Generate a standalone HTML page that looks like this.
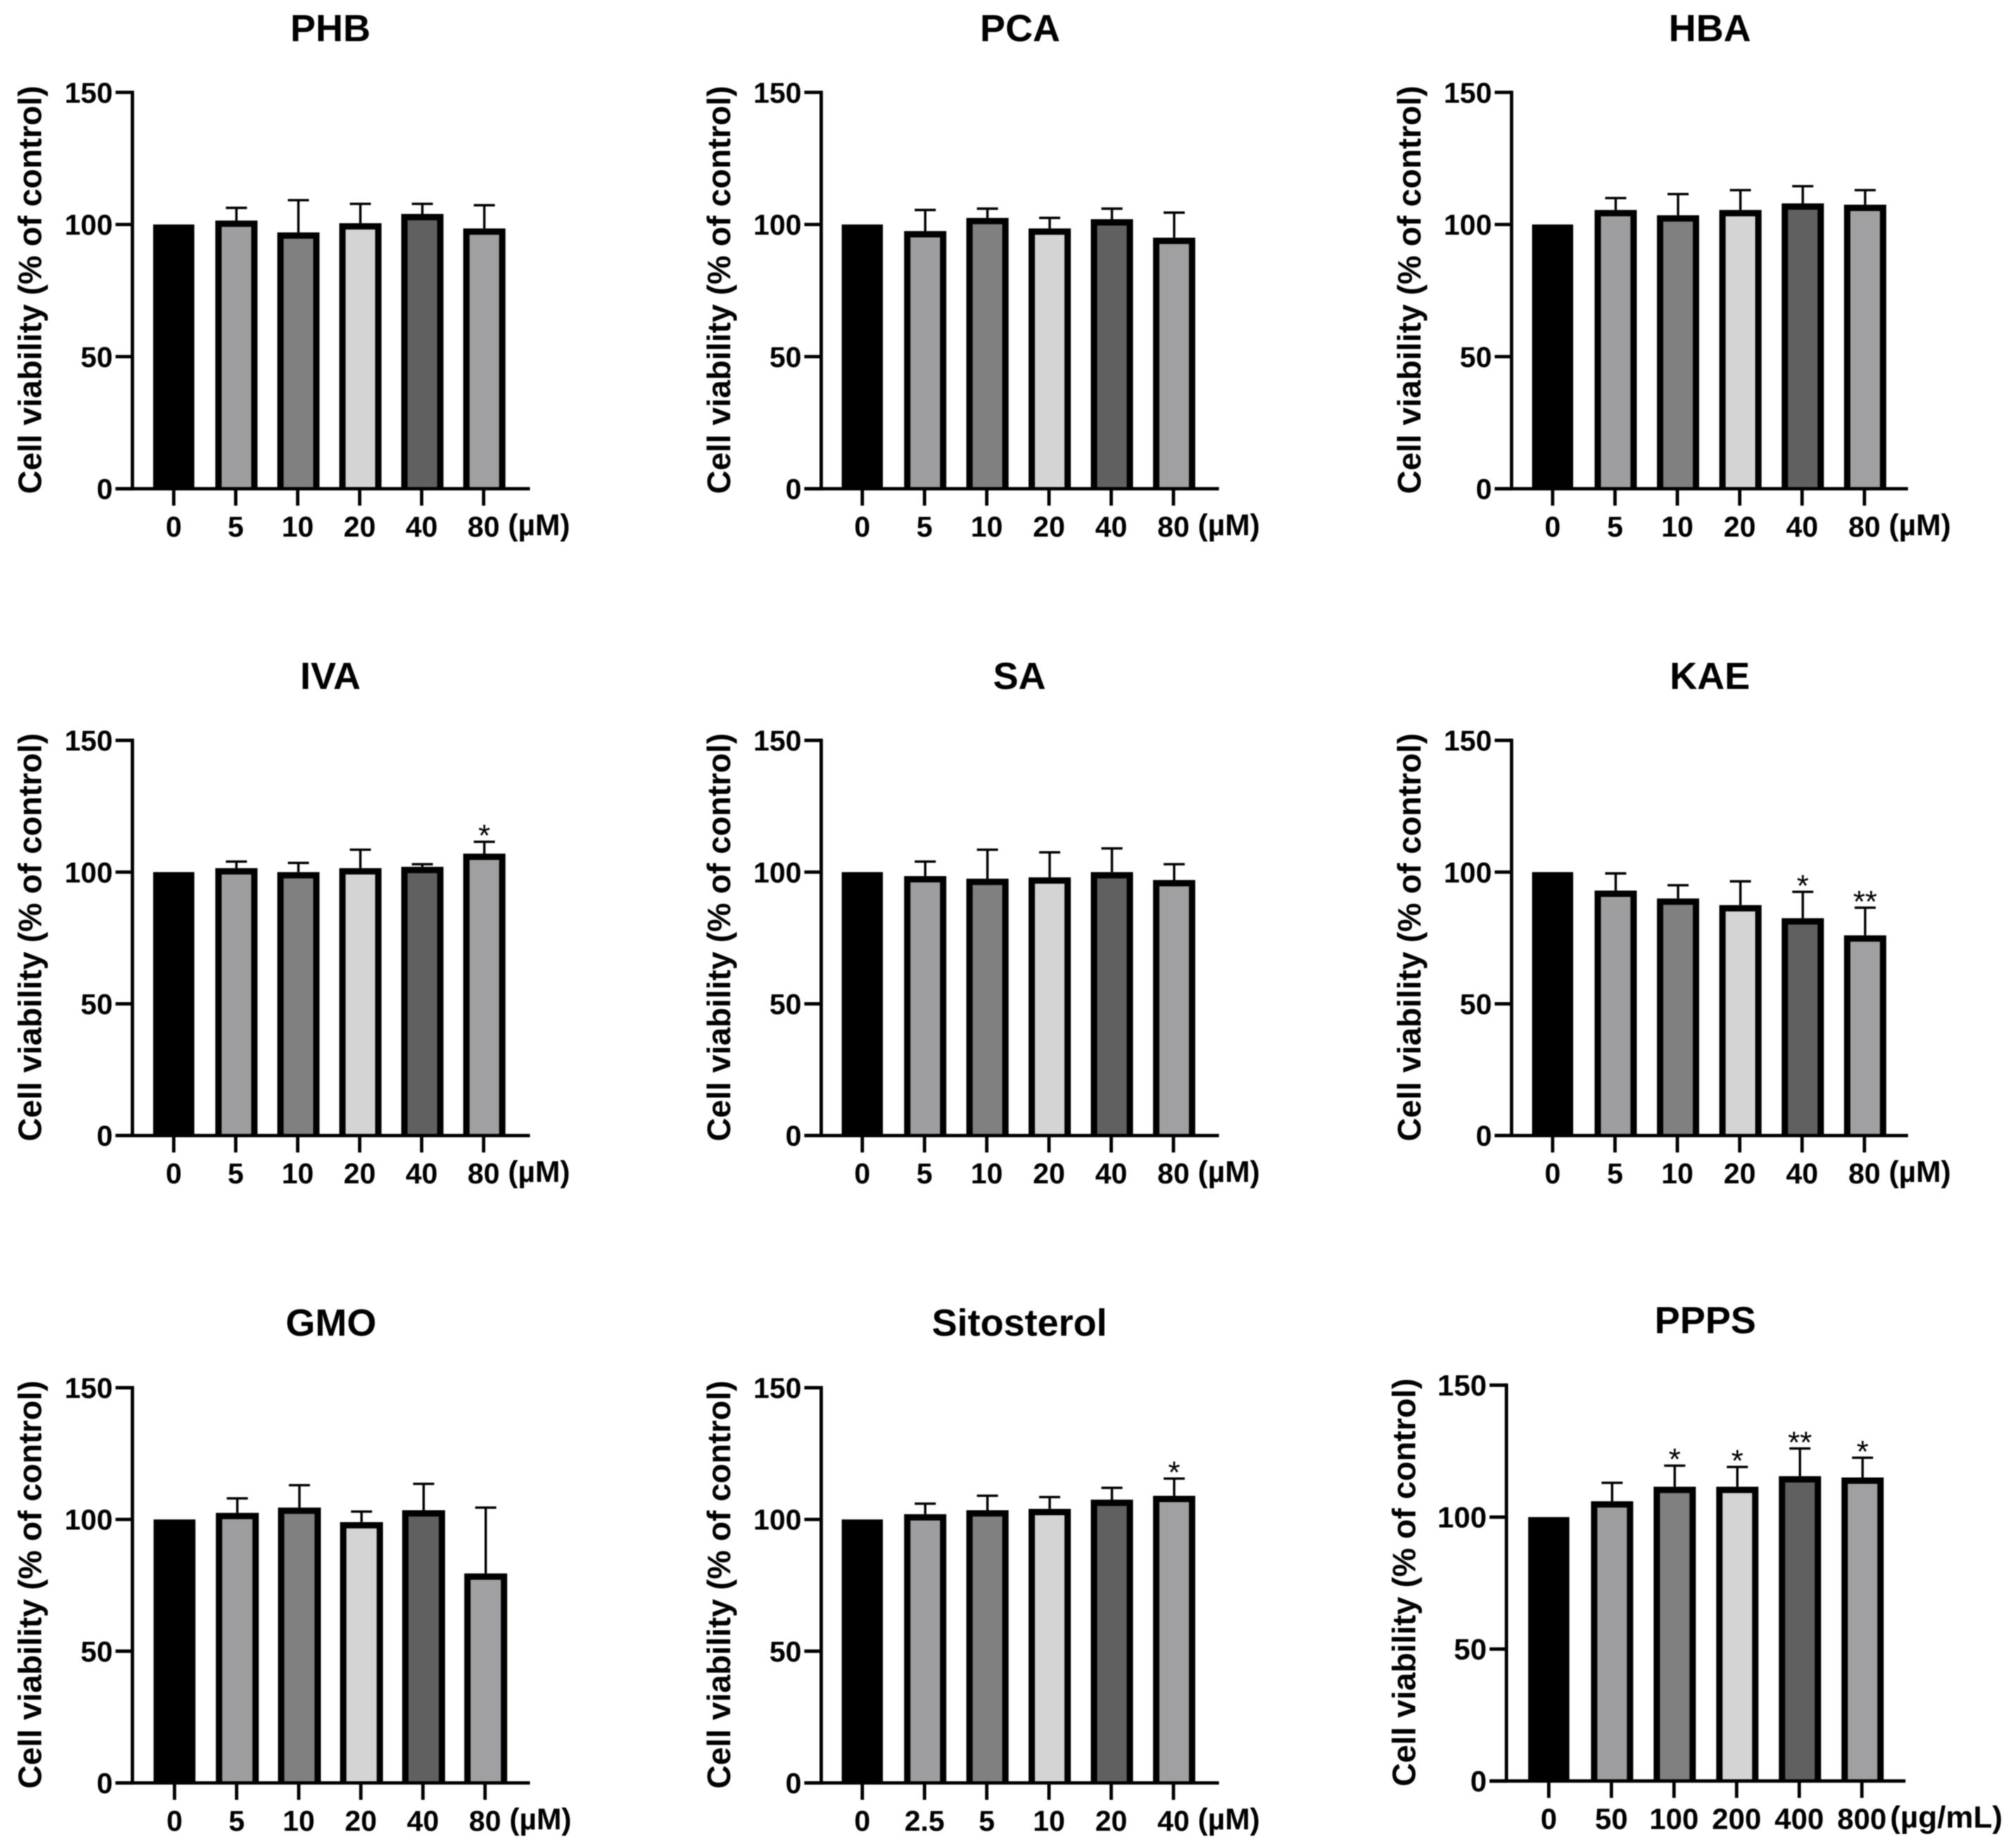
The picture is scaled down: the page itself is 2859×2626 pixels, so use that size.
<!DOCTYPE html>
<html lang="en">
<head>
<meta charset="utf-8">
<title>Cell viability panels</title>
<style>
html,body{margin:0;padding:0;background:#fff;}
svg{display:block;filter:blur(0.6px);}
text{font-family:"Liberation Sans",Arial,sans-serif;font-weight:700;fill:#000;}
</style>
</head>
<body>
<svg id="fig" xmlns="http://www.w3.org/2000/svg" width="2859" height="2626" viewBox="0 0 2859 2626"></svg>
<script>
// ---- data ----
const yTicks = [0, 50, 100, 150];
const yAxisLabel = "Cell viability (% of control)";
const uMLabels = ["0", "5", "10", "20", "40", "80"];
const sitosterolLabels = ["0", "2.5", "5", "10", "20", "40"];
const ppsLabels = ["0", "50", "100", "200", "400", "800"];

const phbMeans = [100, 101.5, 97, 100.5, 104, 98.5];
const phbUppers = [100, 106.3, 109.2, 107.8, 107.8, 107.3];
const phbStars = ["", "", "", "", "", ""];

const pcaMeans = [100, 97.5, 102.5, 98.5, 102, 95];
const pcaUppers = [100, 105.5, 106, 102.5, 106, 104.5];
const pcaStars = ["", "", "", "", "", ""];

const hbaMeans = [100, 105.5, 103.5, 105.5, 108, 107.5];
const hbaUppers = [100, 110, 111.5, 113, 114.5, 113];
const hbaStars = ["", "", "", "", "", ""];

const ivaMeans = [100, 101.5, 100, 101.5, 102, 107];
const ivaUppers = [100, 104, 103.5, 108.5, 103, 111.5];
const ivaStars = ["", "", "", "", "", "*"];

const saMeans = [100, 98.5, 97.5, 98, 100, 97];
const saUppers = [100, 104, 108.5, 107.5, 109, 103];
const saStars = ["", "", "", "", "", ""];

const kaeMeans = [100, 93, 90, 87.5, 82.5, 76];
const kaeUppers = [100, 99.5, 95, 96.5, 92.5, 86.5];
const kaeStars = ["", "", "", "", "*", "**"];

const gmoMeans = [100, 102.5, 104.5, 99, 103.5, 79.5];
const gmoUppers = [100, 108, 113, 103, 113.5, 104.5];
const gmoStars = ["", "", "", "", "", ""];

const sitosterolMeans = [100, 102, 103.5, 104, 107.5, 109];
const sitosterolUppers = [100, 106, 109, 108.5, 112, 115.5];
const sitosterolStars = ["", "", "", "", "", "*"];

const ppsMeans = [100, 106, 111.5, 111.5, 115.5, 115];
const ppsUppers = [100, 113, 119.5, 119, 126, 122.5];
const ppsStars = ["", "", "*", "*", "**", "*"];

const barFills = ["#000000", "#9e9ea1", "#808080", "#d4d4d4", "#606060", "#a0a0a2"];

// ---- panel layout (page geometry, separate from the data) ----
const S = 2859 / 1568;
const panels = [
  {key:"phb", title:"PHB", labels:uMLabels, unit:"(µM)", means:phbMeans, uppers:phbUppers, stars:phbStars, ax:103.2, y0:380.9, y150:72, t0:135.4, dx:48.3, xr:413, tx:257.5, ty:32, unitGap:19, unitSize:42.5, tickSize:41, barW:60},
  {key:"pca", title:"PCA", labels:uMLabels, unit:"(µM)", means:pcaMeans, uppers:pcaUppers, stars:pcaStars, ax:640, y0:380.9, y150:72, t0:672, dx:48.5, xr:950, tx:795, ty:32, unitGap:19, unitSize:42.5, tickSize:41, barW:60},
  {key:"hba", title:"HBA", labels:uMLabels, unit:"(µM)", means:hbaMeans, uppers:hbaUppers, stars:hbaStars, ax:1178, y0:380.9, y150:72, t0:1210, dx:48.6, xr:1487, tx:1332.5, ty:32, unitGap:19, unitSize:42.5, tickSize:41, barW:60},
  {key:"iva", title:"IVA", labels:uMLabels, unit:"(µM)", means:ivaMeans, uppers:ivaUppers, stars:ivaStars, ax:103.2, y0:885, y150:577, t0:135.4, dx:48.3, xr:413, tx:257.5, ty:537, unitGap:19, unitSize:42.5, tickSize:41, barW:60},
  {key:"sa", title:"SA", labels:uMLabels, unit:"(µM)", means:saMeans, uppers:saUppers, stars:saStars, ax:640, y0:885, y150:577, t0:672, dx:48.5, xr:950, tx:794.5, ty:537, unitGap:19, unitSize:42.5, tickSize:41, barW:60},
  {key:"kae", title:"KAE", labels:uMLabels, unit:"(µM)", means:kaeMeans, uppers:kaeUppers, stars:kaeStars, ax:1178, y0:885, y150:577, t0:1210, dx:48.6, xr:1487, tx:1332.5, ty:537, unitGap:19, unitSize:42.5, tickSize:41, barW:60},
  {key:"gmo", title:"GMO", labels:uMLabels, unit:"(µM)", means:gmoMeans, uppers:gmoUppers, stars:gmoStars, ax:103.2, y0:1389.5, y150:1081.5, t0:136, dx:48.4, xr:413, tx:258, ty:1041, unitGap:19, unitSize:42.5, tickSize:41, barW:61},
  {key:"sitosterol", title:"Sitosterol", labels:sitosterolLabels, unit:"(µM)", means:sitosterolMeans, uppers:sitosterolUppers, stars:sitosterolStars, ax:640, y0:1389.5, y150:1081.5, t0:672, dx:48.5, xr:950, tx:794.5, ty:1041, unitGap:19, unitSize:42.5, tickSize:41, barW:60},
  {key:"ppps", title:"PPPS", labels:ppsLabels, unit:"(µg/mL)", means:ppsMeans, uppers:ppsUppers, stars:ppsStars, ax:1174, y0:1388, y150:1079.5, t0:1207, dx:48.8, xr:1485, tx:1329, ty:1039, unitGap:22, unitSize:44, tickSize:42, barW:60}
];

const NS = "http://www.w3.org/2000/svg";
const fig = document.getElementById("fig");

function mk(parent, tag, attrs, txt) {
  const el = document.createElementNS(NS, tag);
  for (const k in attrs) el.setAttribute(k, attrs[k]);
  if (txt !== undefined) el.textContent = txt;
  parent.appendChild(el);
  return el;
}

function drawPanel(p) {
  const y0 = p.y0 * S;
  const y150 = p.y150 * S;
  const axisX = p.ax * S;
  const yScale = v => y0 - (v / 150) * (y0 - y150);
  const xScale = i => (p.t0 + i * p.dx) * S;
  const AXW = 4.8, BARSTROKE = 9, TICKL = 24, CAP = 15, ERRW = 3.4;

  const g = mk(fig, "g", {});
  
  

  const title = mk(g, "text", {x: p.tx * S, y: p.ty * S, "text-anchor": "middle", "font-size": 54}, p.title);
  
  

  const yLabX = (p.ax - 71) * S;
  const yLabY = (y0 + y150) / 2 - 1;
  const yTitle = mk(g, "text", {x: yLabX, y: yLabY, "text-anchor": "middle", "font-size": 46.2,
    transform: "rotate(-90 " + yLabX + " " + yLabY + ")"}, yAxisLabel);
  
  

  // bars: outline is open at the bottom, fill runs down to the axis
  p.means.forEach((m, i) => {
    const cx = xScale(i) + (i === 0 ? 0 : 1);
    const top = yScale(m);
    const w = i === 0 ? p.barW - 1.5 : p.barW;
    const left = cx - w / 2 + BARSTROKE / 2;
    const right = cx + w / 2 - BARSTROKE / 2;
    const bar = mk(g, "path", {
      d: "M" + left + " " + y0 + "V" + (top + BARSTROKE / 2) + "H" + right + "V" + y0,
      fill: barFills[i], stroke: "#000", "stroke-width": BARSTROKE
    });
    
    

    if (p.uppers[i] !== m) {
      const up = yScale(p.uppers[i]);
      const stem = mk(g, "line", {x1: cx, x2: cx, y1: top, y2: up, stroke: "#000", "stroke-width": ERRW});
      
      
      const cap = mk(g, "line", {x1: cx - CAP, x2: cx + CAP, y1: up, y2: up, stroke: "#000", "stroke-width": ERRW});
      
      
    }
    if (p.stars[i]) {
      const star = mk(g, "text", {x: cx, y: yScale(p.uppers[i]) + 6, "text-anchor": "middle", "font-size": 44, style: "font-weight:400"}, p.stars[i]);
      
      
    }
  });

  // axes
  const yAxis = mk(g, "line", {x1: axisX, x2: axisX, y1: y150 - AXW / 2, y2: y0 + AXW / 2, stroke: "#000", "stroke-width": AXW});
  
  
  const xAxis = mk(g, "line", {x1: axisX - TICKL, x2: p.xr * S, y1: y0, y2: y0, stroke: "#000", "stroke-width": AXW});
  
  

  yTicks.forEach(t => {
    const y = yScale(t);
    const tick = mk(g, "line", {x1: axisX - TICKL, x2: axisX, y1: y, y2: y, stroke: "#000", "stroke-width": AXW});
    
    
    const lab = mk(g, "text", {x: axisX - 28, y: y + 14.5, "text-anchor": "end", "font-size": p.tickSize}, String(t));
    
    
  });

  p.labels.forEach((l, i) => {
    const x = xScale(i);
    const tick = mk(g, "line", {x1: x, x2: x, y1: y0, y2: y0 + 24, stroke: "#000", "stroke-width": AXW});
    
    
    const lab = mk(g, "text", {x: x, y: y0 + 68, "text-anchor": "middle", "font-size": p.tickSize}, l);
    
    
  });

  const unit = mk(g, "text", {x: xScale(p.labels.length - 1) + p.unitGap * S, y: y0 + 66, "font-size": p.unitSize}, p.unit);
  
  
}

panels.forEach(drawPanel);
</script>
</body>
</html>
